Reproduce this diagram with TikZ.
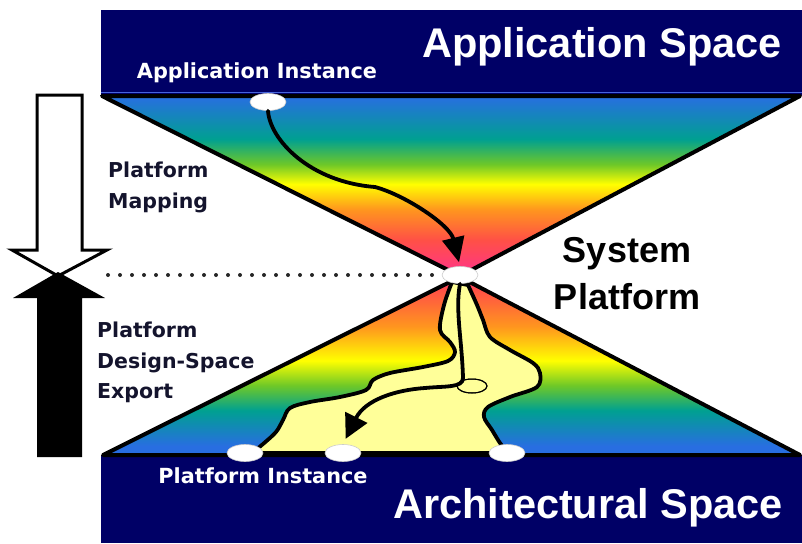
\documentclass[tikz,border=0pt]{standalone}
\usepackage{fontspec}
\setmainfont{Liberation Sans}
\newfontfamily\labelfont{DejaVu Sans}
\usetikzlibrary{arrows.meta,shapes.geometric}

\definecolor{navy}{RGB}{0,0,102}
\definecolor{bandline}{RGB}{70,100,220}
\definecolor{pathyellow}{RGB}{255,255,153}
\definecolor{labelink}{RGB}{20,20,45}
\definecolor{cblue}{RGB}{40,110,225}
\definecolor{cteal}{RGB}{0,160,145}
\definecolor{cgreen}{RGB}{110,200,40}
\definecolor{cyellow}{RGB}{255,255,0}
\definecolor{corange}{RGB}{255,150,30}
\definecolor{cred}{RGB}{255,80,70}
\definecolor{cpink}{RGB}{255,50,140}

% rainbow fans: the visible part of a shading lies between 25bp and 75bp
\pgfdeclareverticalshading{upperfan}{100bp}{color(0bp)=(cpink); color(25bp)=(cpink);
  color(35bp)=(cred); color(43.5bp)=(corange); color(50.5bp)=(cyellow);
  color(56bp)=(cgreen); color(63bp)=(cteal); color(75bp)=(cblue); color(100bp)=(cblue)}
\pgfdeclareverticalshading{lowerfan}{100bp}{color(0bp)=(cblue); color(25bp)=(cblue);
  color(27.5bp)=(cblue); color(37.5bp)=(cteal); color(44.5bp)=(cgreen);
  color(51.5bp)=(cyellow); color(61bp)=(corange); color(71.5bp)=(cred);
  color(75bp)=(cpink); color(100bp)=(cpink)}

\begin{document}
\begin{tikzpicture}[x=1pt,y=-1pt,
  band/.style={fill=navy},
  fanedge/.style={line width=4pt, line join=round},
  flow/.style={line width=3.8pt, line cap=round},
  instance/.style={ellipse, fill=white, draw=gray!40, line width=0.6pt,
    minimum width=36pt, minimum height=17pt, inner sep=0pt},
  bigtitle/.style={text=white, font=\fontsize{41.5}{44}\selectfont\bfseries,
    anchor=base, inner sep=0pt},
  insttext/.style={text=white, font=\labelfont\fontsize{20.8}{24}\selectfont\bfseries,
    anchor=base, inner sep=0pt},
  sidelabel/.style={text=labelink, font=\labelfont\fontsize{20.5}{30.5}\selectfont\bfseries,
    align=left, anchor=north west, inner sep=0pt},
  systext/.style={text=black, font=\fontsize{36}{47}\selectfont\bfseries,
    align=center, anchor=north, inner sep=0pt}]
\useasboundingbox (0,0) rectangle (802,543);

% the two spaces
\fill[band] (101,10) rectangle (802,95);
\draw[bandline, line width=1pt] (101,92) -- (802,92);
\fill[band] (101,455) rectangle (802,543);

% mapping and export fans
\shadedraw[shading=upperfan, fanedge] (102,96) -- (800,96) -- (460,276) -- cycle;
\shadedraw[shading=lowerfan, fanedge] (103,455) -- (460,277) -- (800,455) -- cycle;

% region of reachable platform instances
\filldraw[fill=pathyellow, line width=3.8pt, line join=round]
  plot[smooth, tension=0.55] coordinates {(452,282) (444,305) (440,330) (450,342)
    (455,352) (448,361) (423,367) (390,373) (373,380) (366,390) (340,397) (310,402)
    (290,408) (283,420) (276,432) (263,444) (252,453)}
  -- plot[smooth, tension=0.55] coordinates {(508,453) (500,443) (492,430) (484,417)
    (488,407) (510,397) (537,387) (540,373) (533,363) (510,350) (490,337) (483,320)
    (477,305) (468,285)} -- cycle;

% instances
\node[instance] (ai) at (268,102) {};
\node[instance] (sp) at (460,275) {};
\node[instance] (pi1) at (245,453) {};
\node[instance] (pi2) at (343,453) {};
\node[instance] (pi3) at (507,453) {};
\node[ellipse, draw, line width=1pt, minimum width=30pt, minimum height=14pt,
  inner sep=0pt] (jn) at (472,386) {};

% level of the system platform
\coordinate (dotstart) at (108,275);
\draw[line width=4pt, line cap=round, dash pattern=on 0pt off 12pt, black!85]
  (dotstart) -- (sp.west);

% refinement paths
\draw[flow, -{Triangle[length=25pt,width=22pt]}, shorten >=4pt]
  (ai.south) .. controls (270,140) and (310,182) .. (375,187)
  .. controls (405,195) and (450,225) .. (sp.north);
\draw[flow, -{Triangle[length=24pt,width=24pt]}, shorten >=6pt]
  (sp.south) .. controls (455,310) and (462,340) .. (463,378)
  .. controls (463,388) and (445,386) .. (425,388)
  .. controls (395,390) and (365,400) .. (pi2.north);
\node[ellipse, draw, line width=1pt, minimum width=30pt, minimum height=14pt,
  inner sep=0pt] at (jn) {};

% mapping / export arrows
\draw[line width=3pt, fill=white, line join=miter]
  (37,95) -- (82,95) -- (82,250) -- (107,250) -- (58,276) -- (12,250) -- (37,250) -- cycle;
\fill[black]
  (58,272) -- (105,298) -- (82,298) -- (82,457) -- (37,457) -- (37,298) -- (13,298) -- cycle;

% labels
\node[bigtitle] (tapp) at (602,58) {Application Space};
\node[bigtitle] (tarch) at (588,518) {Architectural Space};
\node[insttext] (tai) at (257,78) {Application Instance};
\node[insttext] (tpi) at (263,483) {Platform Instance};
\node[sidelabel] (tmap) at (108,162) {Platform\\Mapping};
\node[sidelabel] (texp) at (97,322) {Platform\\Design-Space\\Export};
\node[systext] (tsys) at (627,237) {System\\Platform};
\end{tikzpicture}
\end{document}
